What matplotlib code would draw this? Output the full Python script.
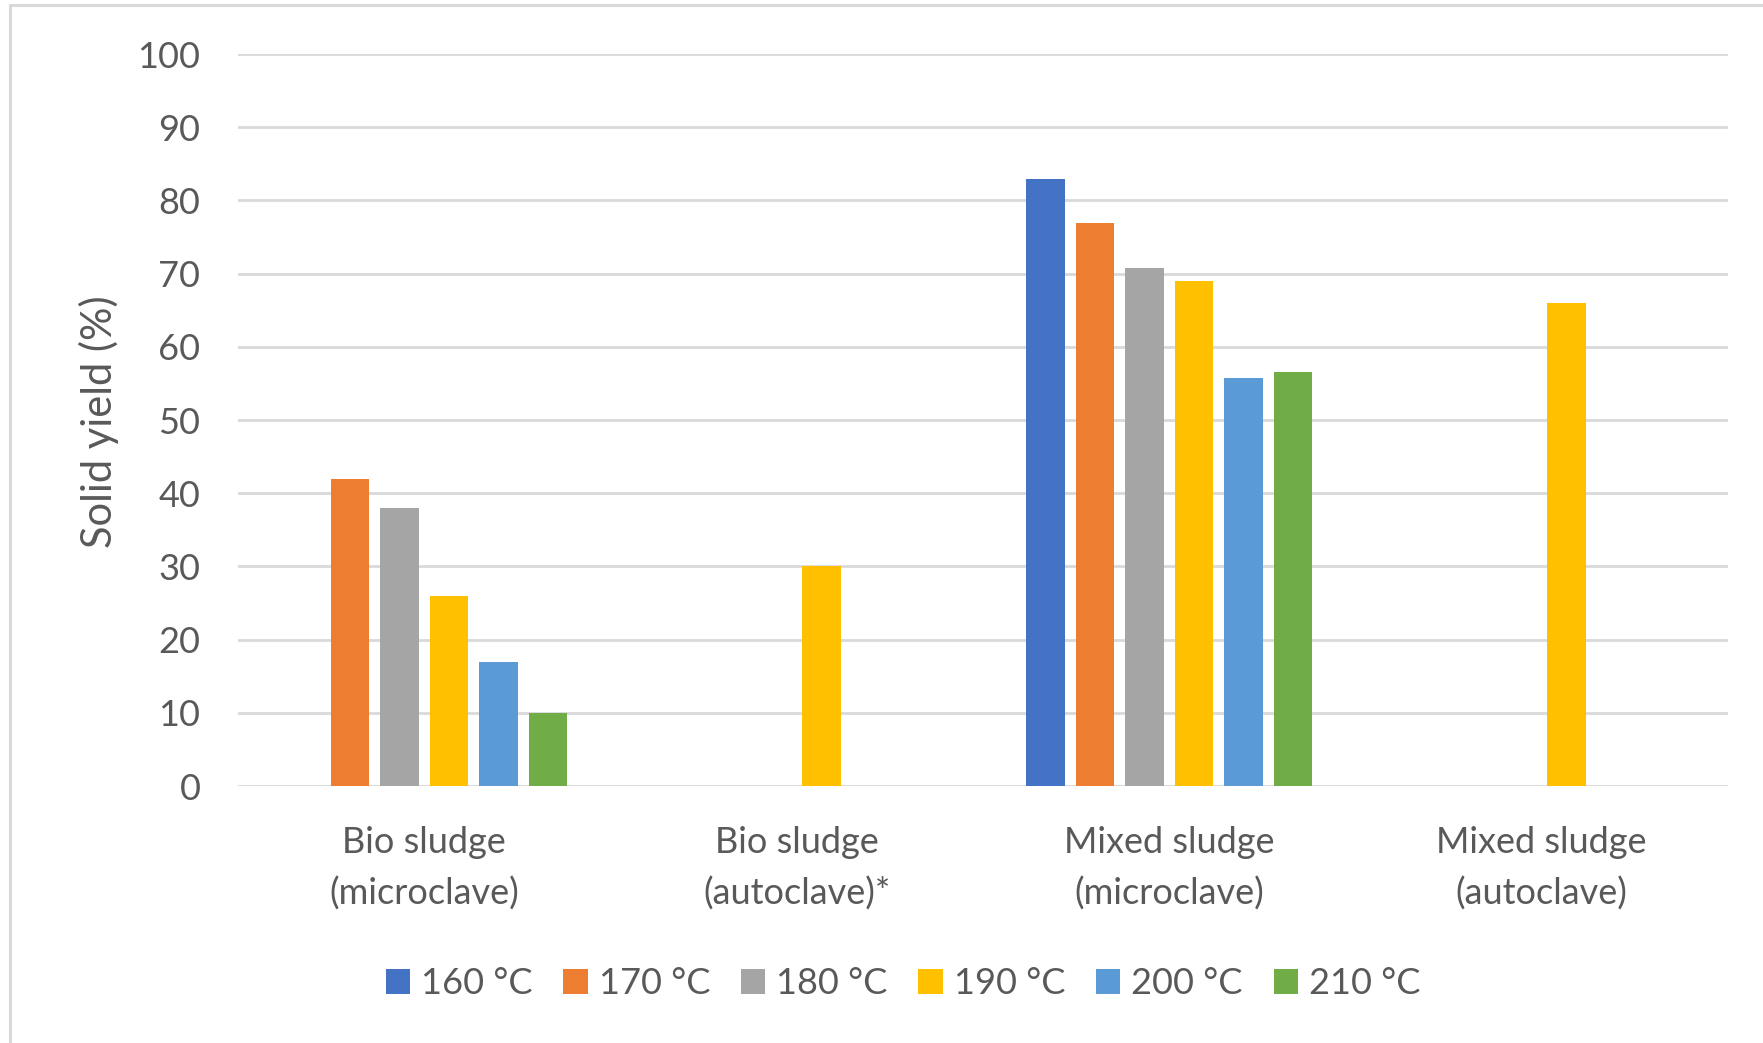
import numpy as np
import matplotlib
matplotlib.use("Agg")
import matplotlib.pyplot as plt
from matplotlib.patches import Rectangle

# Categories and solid-yield values (%) per hydrothermal treatment temperature
categories = ["Bio sludge\n(microclave)", "Bio sludge\n(autoclave)*",
              "Mixed sludge\n(microclave)", "Mixed sludge\n(autoclave)"]
series_labels = ["160 °C", "170 °C", "180 °C", "190 °C", "200 °C", "210 °C"]
yield_160 = [None, None, 82.9, None]
yield_170 = [42.0, None, 76.9, None]
yield_180 = [38.0, None, 70.8, None]
yield_190 = [26.0, 30.0, 69.0, 66.0]
yield_200 = [17.0, None, 55.7, None]
yield_210 = [10.0, None, 56.6, None]
y_ticks = [0, 10, 20, 30, 40, 50, 60, 70, 80, 90, 100]

series_values = [yield_160, yield_170, yield_180, yield_190, yield_200, yield_210]
colors = ["#4472C4", "#ED7D31", "#A5A5A5", "#FFC000", "#5B9BD5", "#70AD47"]
text_color = "#595959"
grid_color = "#D9D9D9"

plt.rcParams["font.family"] = ["Lato", "DejaVu Sans"]

W, H = 1763, 1043
fig = plt.figure(figsize=(W / 100, H / 100), dpi=100)
fig.patch.set_facecolor("white")

# plot area in pixel terms
left, right, top, bottom = 238, 1728, 54, 786
ax = fig.add_axes([left / W, 1 - bottom / H, (right - left) / W, (bottom - top) / H])

x = np.arange(len(categories))
pitch = 0.133
width = 0.103
handles = []
for i, (vals, col) in enumerate(zip(series_values, colors)):
    idx = [j for j, v in enumerate(vals) if v is not None]
    heights = [vals[j] for j in idx]
    bars = ax.bar(x[idx] + (i - 2.5) * pitch, heights, width=width,
                  color=col, zorder=3, linewidth=0)
    handles.append(bars)

ax.set_xlim(-0.5, len(categories) - 0.5)
ax.set_ylim(0, 100)
ax.set_yticks(y_ticks)
ax.set_yticklabels([str(t) for t in y_ticks])
ax.set_xticks(x)
ax.set_xticklabels(categories, linespacing=1.6)
ax.tick_params(axis="both", length=0, labelsize=26, labelcolor=text_color)
ax.tick_params(axis="y", pad=27)
ax.tick_params(axis="x", pad=29)
for t in y_ticks:
    ax.axhline(t, color=grid_color, linewidth=2.0, zorder=1)
for s in ax.spines.values():
    s.set_visible(False)
ax.set_facecolor("white")

fig.text(99 / W, 1 - 422 / H, "Solid yield (%)", rotation=90, ha="center",
         va="center", fontsize=30, color=text_color)

fig.legend(handles, series_labels, loc="center", bbox_to_anchor=(903 / W, 1 - 984 / H),
           ncol=6, frameon=False, fontsize=26, labelcolor=text_color,
           handlelength=0.68, handleheight=0.68, handletextpad=0.3,
           columnspacing=0.85)

# chart-area border
fig.add_artist(Rectangle((10 / W, -0.1), 1.2, 1.1 - 5 / H, transform=fig.transFigure,
                         fill=False, edgecolor=grid_color, linewidth=2.2))

fig.savefig("out.png", dpi=100, facecolor="white")
